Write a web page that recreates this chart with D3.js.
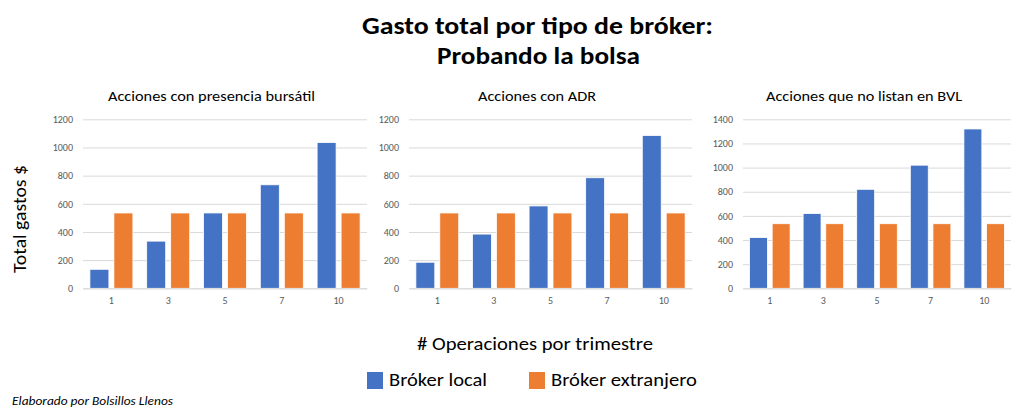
<!DOCTYPE html>
<html>
<head>
<meta charset="utf-8">
<script src="https://cdn.jsdelivr.net/npm/d3@7"></script>
<style>
  html, body { margin: 0; padding: 0; background: #fff; }
  svg { display: block; }
  text { font-family: Carlito, Calibri, Lato, "Open Sans", sans-serif; }
</style>
</head>
<body>
<svg id="chart" width="1024" height="417"></svg>
<script>
// ---- Data ----
const categories = ["1", "3", "5", "7", "10"];
const seriesNames = ["Bróker local", "Bróker extranjero"];
const panelTitles = ["Acciones con presencia bursátil", "Acciones con ADR", "Acciones que no listan en BVL"];
const localPresencia = [135, 335, 535, 735, 1035];
const extranjeroPresencia = [535, 535, 535, 535, 535];
const localADR = [185, 385, 585, 785, 1085];
const extranjeroADR = [535, 535, 535, 535, 535];
const localNoBVL = [420, 620, 820, 1020, 1320];
const extranjeroNoBVL = [535, 535, 535, 535, 535];
const yTicks12 = [0, 200, 400, 600, 800, 1000, 1200];
const yTicks14 = [0, 200, 400, 600, 800, 1000, 1200, 1400];
const titleLines = ["Gasto total por tipo de bróker:", "Probando la bolsa"];
const yAxisTitle = "Total gastos $";
const xAxisTitle = "# Operaciones por trimestre";
const footer = "Elaborado por Bolsillos Llenos";
const colors = ["#4472C4", "#ED7D31"];

// ---- Layout ----
const panels = [
  { title: panelTitles[0], local: localPresencia, ext: extranjeroPresencia, ticks: yTicks12, yMax: 1200, x0: 83, x1: 367, titleX: 211.5, titleW: 207 },
  { title: panelTitles[1], local: localADR, ext: extranjeroADR, ticks: yTicks12, yMax: 1200, x0: 409, x1: 692, titleX: 537, titleW: 118 },
  { title: panelTitles[2], local: localNoBVL, ext: extranjeroNoBVL, ticks: yTicks14, yMax: 1400, x0: 743, x1: 1011, titleX: 864, titleW: 196 }
];
const yTop = 119.3, yBottom = 288.3;

const svg = d3.select("#chart");

function fitText(sel, w) {
  return sel.attr("textLength", w).attr("lengthAdjust", "spacingAndGlyphs");
}

// Title
fitText(svg.append("text").attr("x", 537.5).attr("y", 34).attr("text-anchor", "middle")
  .attr("font-size", 24).attr("font-weight", "bold").attr("fill", "#000").text(titleLines[0]), 351);
fitText(svg.append("text").attr("x", 538.5).attr("y", 64).attr("text-anchor", "middle")
  .attr("font-size", 24).attr("font-weight", "bold").attr("fill", "#000").text(titleLines[1]), 203);

panels.forEach(p => {
  const g = svg.append("g");
  const x = d3.scaleBand().domain(categories).range([p.x0, p.x1]).paddingInner(0.243).paddingOuter(0.1215);
  const xs = d3.scaleBand().domain(seriesNames).range([0, x.bandwidth()]).paddingInner(5 / 24).paddingOuter(0);
  const y = d3.scaleLinear().domain([0, p.yMax]).range([yBottom, yTop]);

  // gridlines + y labels
  const yAxis = d3.axisLeft(y).tickValues(p.ticks).tickSize(-(p.x1 - p.x0)).tickPadding(10).tickFormat(d3.format("d"));
  const ya = g.append("g").attr("transform", `translate(${p.x0},0)`).call(yAxis);
  ya.select(".domain").remove();
  ya.selectAll(".tick line").attr("stroke", "#d9d9d9").attr("stroke-width", 1);
  ya.selectAll(".tick text").attr("fill", "#595959").attr("font-size", 10)
    .style("font-family", "Carlito, Calibri, Lato, sans-serif");

  // bars
  const data = categories.map((c, i) => ({ c, vals: [p.local[i], p.ext[i]] }));
  const cg = g.selectAll("g.cat").data(data).join("g").attr("class", "cat")
    .attr("transform", d => `translate(${x(d.c)},0)`);
  cg.selectAll("rect").data(d => d.vals.map((v, k) => ({ v, k })))
    .join("rect")
    .attr("x", d => xs(seriesNames[d.k]))
    .attr("width", xs.bandwidth())
    .attr("y", d => y(d.v))
    .attr("height", d => yBottom - y(d.v))
    .attr("fill", d => colors[d.k])
    .attr("stroke", "#fff").attr("stroke-width", 0.8);

  // x axis labels
  const xAxis = d3.axisBottom(x).tickSize(0).tickPadding(9);
  const xa = g.append("g").attr("transform", `translate(0,${yBottom})`).call(xAxis);
  xa.select(".domain").attr("stroke", "#d9d9d9");
  xa.selectAll(".tick text").attr("fill", "#595959").attr("font-size", 10)
    .style("font-family", "Carlito, Calibri, Lato, sans-serif");

  // panel title
  fitText(g.append("text").attr("x", p.titleX).attr("y", 101).attr("text-anchor", "middle")
    .attr("font-size", 14.5).attr("fill", "#000").text(p.title), p.titleW);
});

// axis titles
fitText(svg.append("text").attr("transform", "translate(26,219) rotate(-90)").attr("text-anchor", "middle")
  .attr("font-size", 19).attr("fill", "#000").text(yAxisTitle), 108);
fitText(svg.append("text").attr("x", 535).attr("y", 350).attr("text-anchor", "middle")
  .attr("font-size", 19).attr("fill", "#000").text(xAxisTitle), 236);

// legend
const legendX = [367, 529];
const legendW = [98, 146];
seriesNames.forEach((s, i) => {
  svg.append("rect").attr("x", legendX[i]).attr("y", 372).attr("width", 16).attr("height", 17)
    .attr("fill", colors[i]);
  fitText(svg.append("text").attr("x", legendX[i] + 22).attr("y", 386).attr("font-size", 19)
    .attr("fill", "#000").text(s), legendW[i]);
});

// footer
fitText(svg.append("text").attr("x", 12).attr("y", 405).attr("font-size", 11.5).attr("font-style", "italic")
  .attr("fill", "#000").text(footer), 161);
</script>
</body>
</html>
